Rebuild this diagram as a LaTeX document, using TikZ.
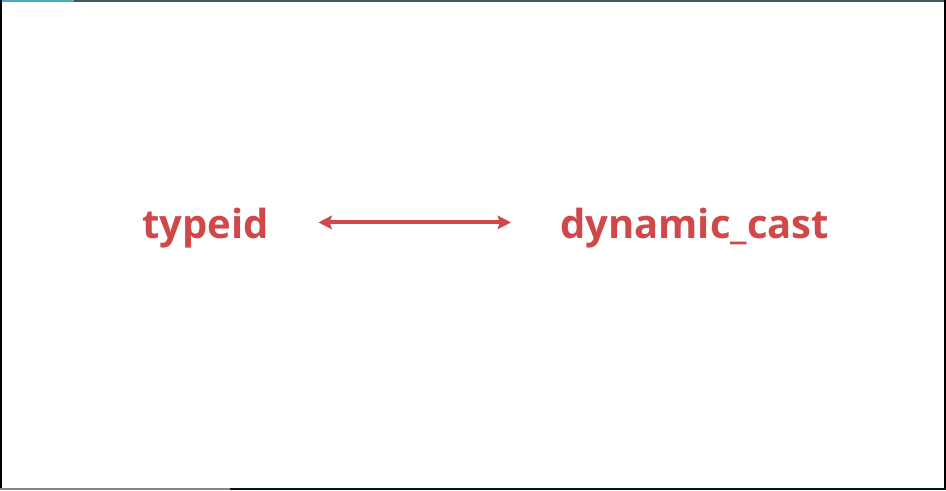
\documentclass[tikz,border=0pt]{standalone}
\usepackage{fontspec}
\setmainfont{Open Sans}
\usetikzlibrary{arrows.meta}
\definecolor{rougecle}{RGB}{208,72,74}
\definecolor{bleubord}{RGB}{72,172,184}
\definecolor{ardoise}{RGB}{62,86,92}
\definecolor{grisbord}{RGB}{128,136,136}
\begin{document}
\begin{tikzpicture}[x=0.75pt,y=0.75pt]
\tikzset{motcle/.style={inner sep=0pt, anchor=base, text=rougecle, font=\fontsize{30}{36}\selectfont\bfseries}}
\tikzset{fleche/.style={rougecle, line width=2.9pt, {Stealth[length=10pt,width=10pt,inset=1.5pt]}-{Stealth[length=10pt,width=10pt,inset=1.5pt]}}}
\useasboundingbox (0,0) rectangle (946,490);
\fill[white] (0,0) rectangle (946,490);
% bords
\fill[bleubord] (0,488) rectangle (74,490);
\fill[ardoise] (74,488) rectangle (946,490);
\fill[black] (0,0) rectangle (1.5,490);
\fill[black] (943.5,0) rectangle (946,490);
\fill[grisbord] (0,0) rectangle (230,2.5);
\fill[black!90!green] (230,0) rectangle (946,2.5);
\node[motcle] (typeid) at (205.5,252) {typeid};
\node[motcle] (dyncast) at (694.5,252) {dynamic\_cast};
\draw[fleche, shorten <=37pt, shorten >=36.5pt] ([yshift=9pt]typeid.mid east) -- ([yshift=9pt]dyncast.mid west);
\end{tikzpicture}
\end{document}
